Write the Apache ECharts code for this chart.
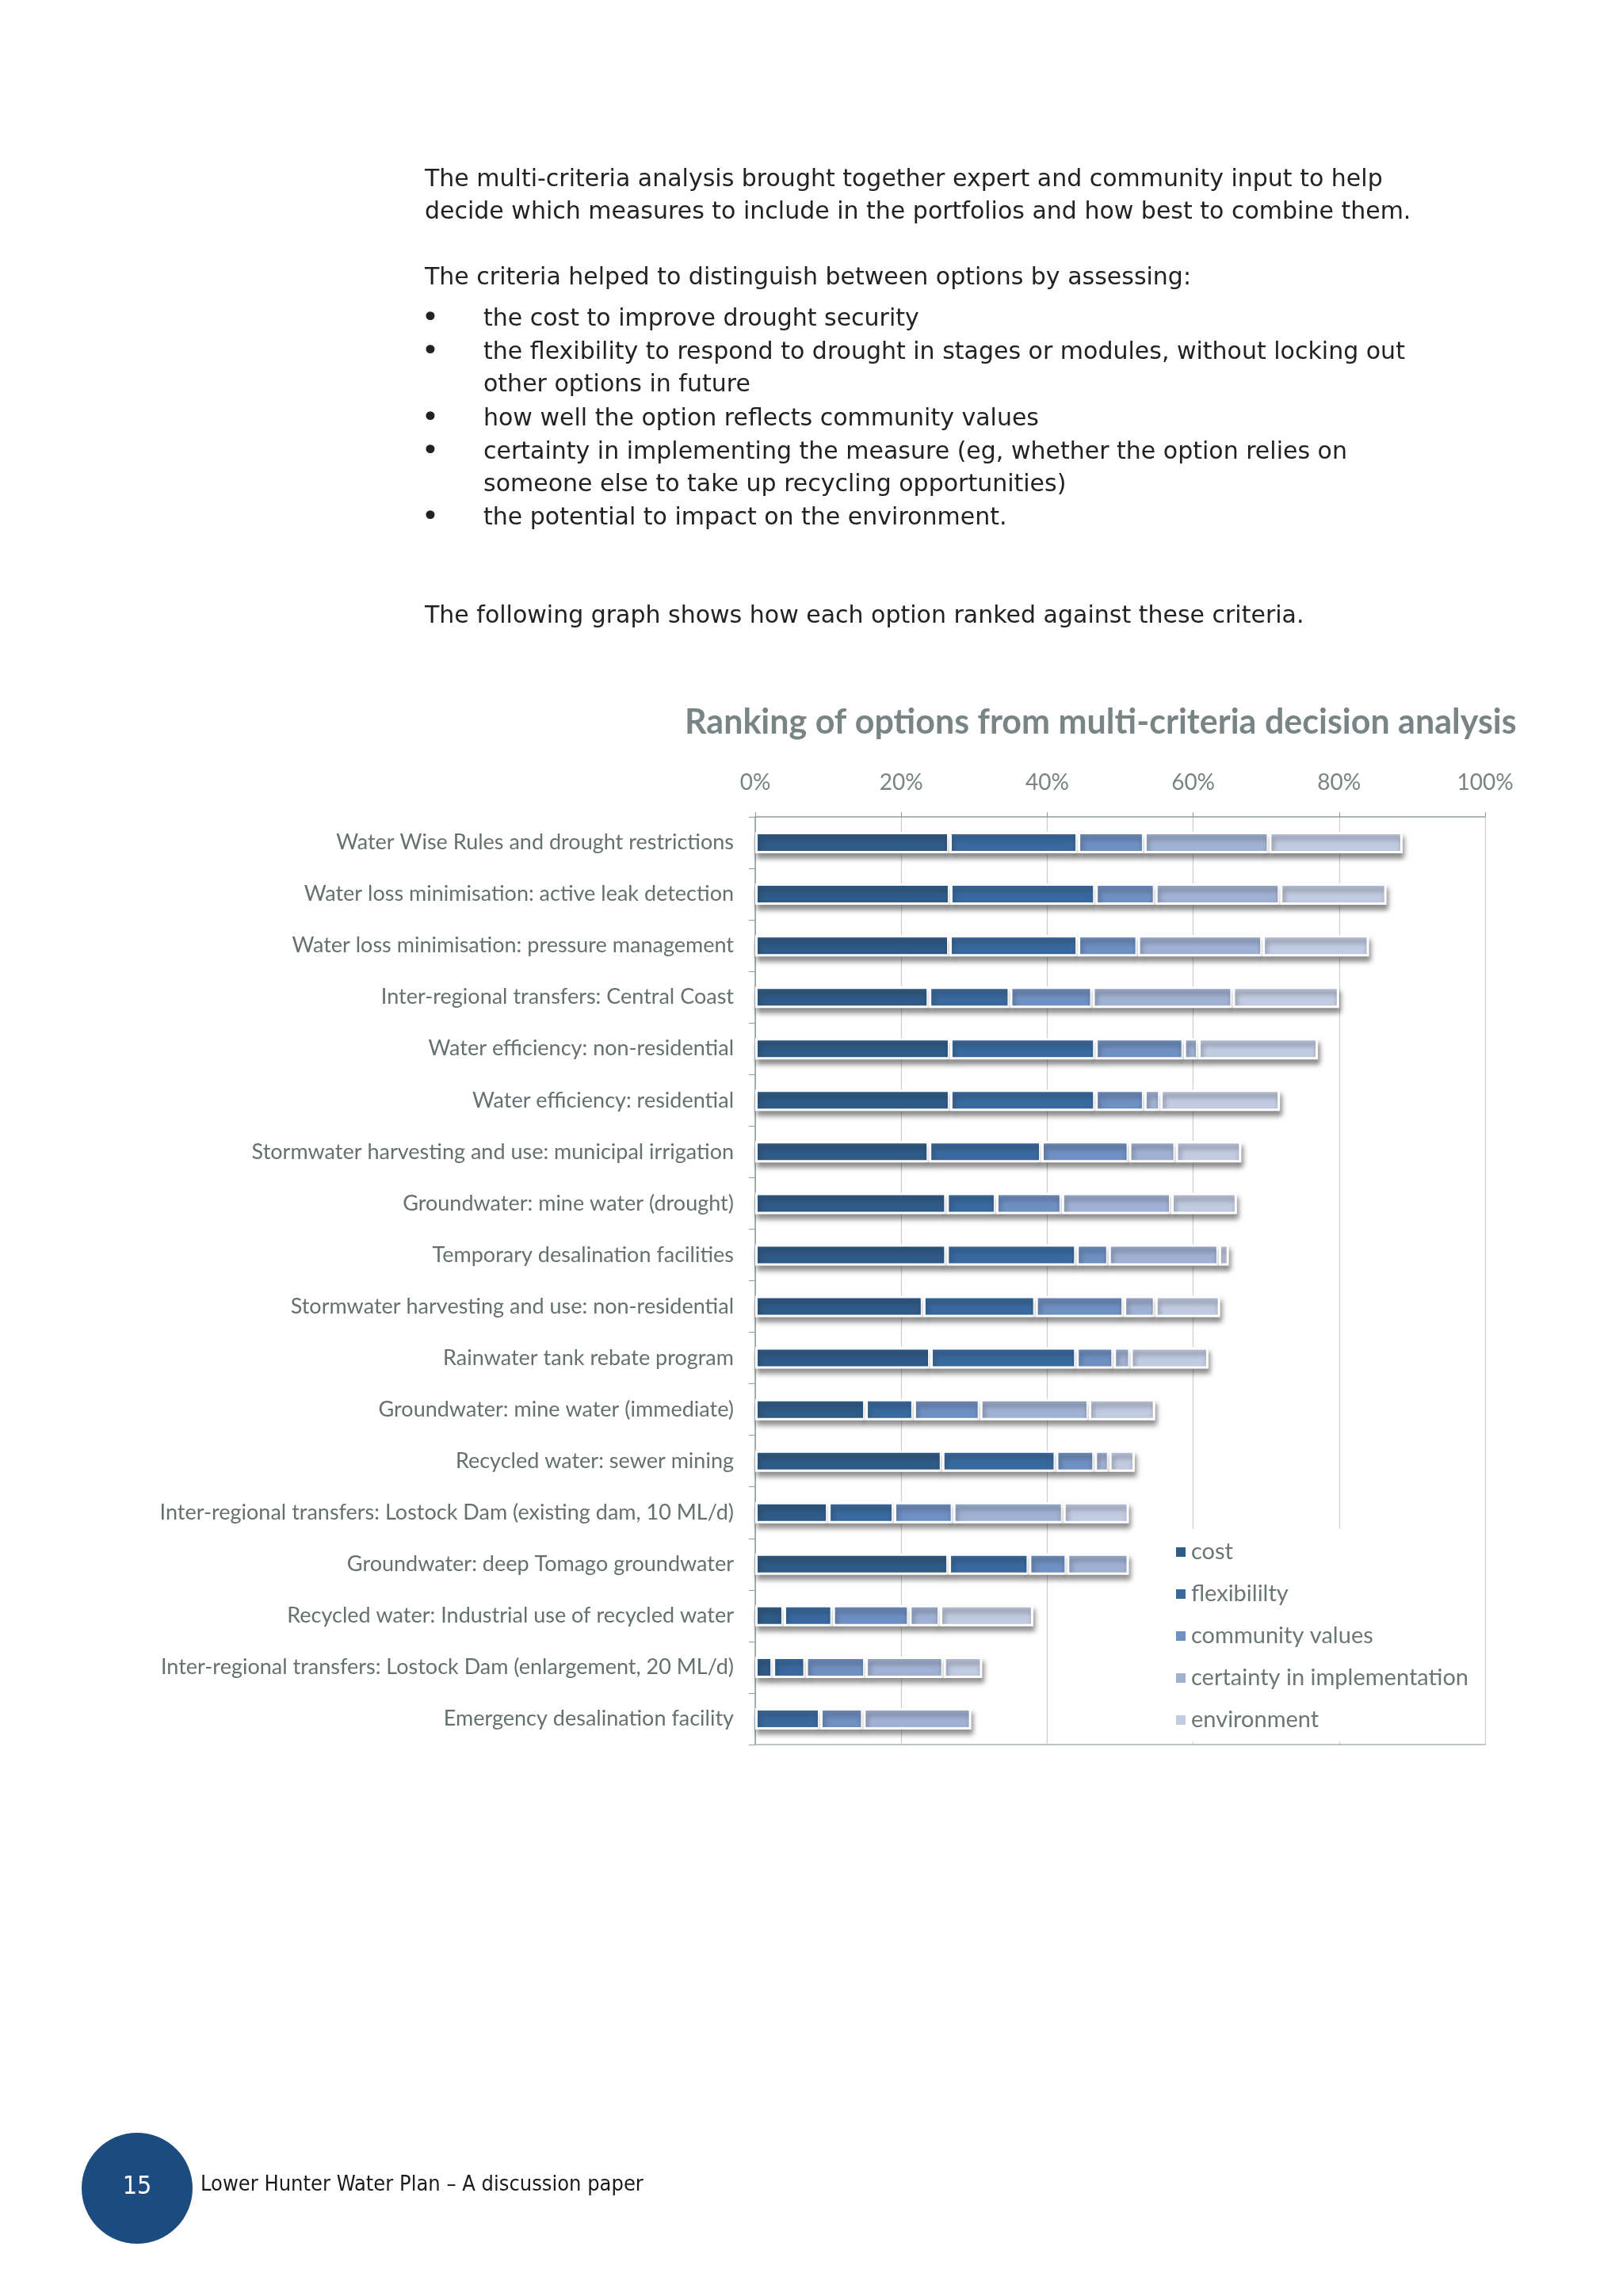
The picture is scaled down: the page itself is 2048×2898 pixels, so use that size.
<!DOCTYPE html>
<html><head><meta charset="utf-8">
<script src="https://cdn.jsdelivr.net/npm/echarts@6/dist/echarts.min.js"></script>
<style>html,body{margin:0;padding:0;background:#fff}#c{width:2048px;height:2898px}</style>
</head><body><div id="c"></div>
<script>
const categories = [
  'Water Wise Rules and drought restrictions',
  'Water loss minimisation: active leak detection',
  'Water loss minimisation: pressure management',
  'Inter-regional transfers: Central Coast',
  'Water efficiency: non-residential',
  'Water efficiency: residential',
  'Stormwater harvesting and use: municipal irrigation',
  'Groundwater: mine water (drought)',
  'Temporary desalination facilities',
  'Stormwater harvesting and use: non-residential',
  'Rainwater tank rebate program',
  'Groundwater: mine water (immediate)',
  'Recycled water: sewer mining',
  'Inter-regional transfers: Lostock Dam (existing dam, 10 ML/d)',
  'Groundwater: deep Tomago groundwater',
  'Recycled water: Industrial use of recycled water',
  'Inter-regional transfers: Lostock Dam (enlargement, 20 ML/d)',
  'Emergency desalination facility'
];
const seriesNames = ['cost', 'flexibililty', 'community values', 'certainty in implementation', 'environment'];
const cost        = [26.6, 26.7, 26.6, 23.8, 26.7, 26.7, 23.8, 26.2, 26.2, 23.0, 24.0, 15.1, 25.6, 10.0, 26.5, 3.9, 2.4, null];
const flexibility = [17.6, 19.9, 17.6, 11.1, 19.9, 19.9, 15.4, 6.8, 17.8, 15.4, 20.0, 6.6, 15.6, 9.0, 11.0, 6.7, 4.5, 8.9];
const community   = [9.1, 8.2, 8.2, 11.3, 12.1, 6.7, 12.0, 9.0, 4.4, 12.1, 5.1, 9.1, 5.3, 8.1, 5.2, 10.5, 8.2, 5.9];
const certainty   = [17.1, 17.1, 17.1, 19.2, 2.0, 2.2, 6.4, 15.0, 15.1, 4.3, 2.3, 14.9, 2.0, 15.1, 8.5, 4.2, 10.7, 14.8];
const environment = [18.3, 14.6, 14.6, 14.6, 16.4, 16.4, 9.0, 9.0, 1.4, 8.9, 10.7, 9.1, 3.5, 9.0, null, 12.8, 5.3, null];
const seriesValues = [cost, flexibility, community, certainty, environment];
const colors = ['#2f5b88', '#386aa0', '#6f90c3', '#a0b2d4', '#c1cbe2'];

const titleText = 'Ranking of options from multi-criteria decision analysis';
const bodyLines = [
  'The multi-criteria analysis brought together expert and community input to help',
  'decide which measures to include in the portfolios and how best to combine them.',
  'The criteria helped to distinguish between options by assessing:'
];
const bulletLines = [
  ['the cost to improve drought security'],
  ['the flexibility to respond to drought in stages or modules, without locking out', 'other options in future'],
  ['how well the option reflects community values'],
  ['certainty in implementing the measure (eg, whether the option relies on', 'someone else to take up recycling opportunities)'],
  ['the potential to impact on the environment.']
];
const closingLine = 'The following graph shows how each option ranked against these criteria.';
const pageNumber = '15';
const footerText = 'Lower Hunter Water Plan \u2013 A discussion paper';

const chart = echarts.init(document.getElementById('c'), null, {renderer: 'canvas'});

const bodyFont = '30px "DejaVu Sans", Verdana, sans-serif';
const graphics = [];
function addText(t, x, y, opts) {
  graphics.push({
    type: 'text', x: x, y: y, silent: true,
    style: Object.assign({text: t, font: bodyFont, fill: '#222', align: 'left', verticalAlign: 'middle'}, opts || {})
  });
}
addText(bodyLines[0], 536, 227);
addText(bodyLines[1], 536, 268);
addText(bodyLines[2], 536, 351);
const bulletY = [[403], [445, 486], [529], [571, 612], [654]];
bulletLines.forEach((lines, i) => {
  addText('\u2022', 543, bulletY[i][0], {align: 'center', font: '38px "DejaVu Sans", sans-serif'});
  lines.forEach((l, j) => addText(l, 610, bulletY[i][j]));
});
addText(closingLine, 536, 778);
graphics.push({type: 'circle', shape: {cx: 173, cy: 2762, r: 70}, style: {fill: '#1b4b7f'}, silent: true});
addText(pageNumber, 173, 2761, {align: 'center', fill: '#fff', font: '32px "DejaVu Sans Condensed", "DejaVu Sans", sans-serif'});
addText(footerText, 253, 2758, {fill: '#1a1a1a', font: '27px "DejaVu Sans Condensed", "DejaVu Sans", sans-serif'});

const gridLeft = 953, gridTop = 1031, gridW = 921, gridH = 1171;

chart.setOption({
  backgroundColor: '#ffffff',
  animation: false,
  title: {
    text: titleText, left: 864, top: 891, padding: 0,
    textStyle: {fontFamily: 'Lato', fontWeight: 'bold', fontSize: 43, color: '#798585'}
  },
  legend: {
    orient: 'vertical', left: 1472, top: 1930,
    padding: [14, 12, 12, 12],
    backgroundColor: '#ffffff',
    itemWidth: 12, itemHeight: 12, itemGap: 23,
    icon: 'rect',
    data: seriesNames,
    itemStyle: {borderWidth: 0, shadowBlur: 0, shadowOffsetX: 0, shadowOffsetY: 0, shadowColor: 'rgba(0,0,0,0)'},
    textStyle: {fontFamily: 'Lato', fontSize: 29, color: '#6b7676', lineHeight: 30, padding: [0, 0, 0, 2]}
  },
  grid: {left: gridLeft, top: gridTop, width: gridW, height: gridH, containLabel: false},
  xAxis: [{
    type: 'value', position: 'top', min: 0, max: 100, interval: 20,
    axisLine: {show: true, lineStyle: {color: '#8e9c9c', width: 1.5}},
    axisTick: {show: true, length: 6, lineStyle: {color: '#8e9c9c'}},
    axisLabel: {formatter: '{value}%', fontFamily: 'Lato', fontSize: 28, color: '#788383', margin: 29},
    splitLine: {show: true, lineStyle: {color: '#c9cfcf', width: 1.2}}
  }, {
    type: 'value', position: 'bottom', min: 0, max: 100, interval: 20,
    axisLine: {show: true, onZero: false, lineStyle: {color: '#a9b3b3', width: 1.5}},
    axisTick: {show: false}, axisLabel: {show: false}, splitLine: {show: false}
  }],
  yAxis: {
    type: 'category', data: categories, inverse: true,
    axisLine: {show: true, lineStyle: {color: '#8e9c9c', width: 1.5}},
    axisTick: {show: true, length: 8, lineStyle: {color: '#8e9c9c'}},
    axisLabel: {fontFamily: 'Lato', fontSize: 27, color: '#657070', margin: 27},
    splitLine: {show: false}
  },
  series: seriesNames.map((name, i) => ({
    name: name, type: 'bar', stack: 'total', xAxisIndex: 0,
    barWidth: 27,
    data: seriesValues[i],
    itemStyle: {
      color: colors[i], borderColor: '#ffffff', borderWidth: 3,
      shadowColor: 'rgba(40,40,40,0.5)', shadowBlur: 6, shadowOffsetX: 2, shadowOffsetY: 6
    },
    emphasis: {disabled: true}
  })),
  graphic: graphics
});
</script></body></html>
